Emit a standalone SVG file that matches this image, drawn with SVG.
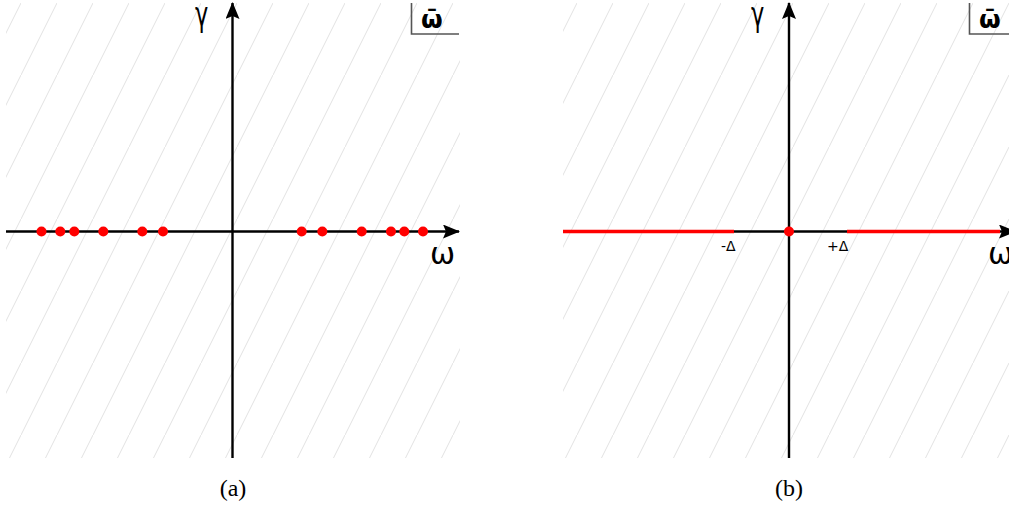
<svg xmlns="http://www.w3.org/2000/svg" width="1009" height="511" viewBox="0 0 1009 511">
<style>
.axis{stroke:#000;stroke-width:2.4;fill:none}
.box{stroke:#555;stroke-width:1.6;fill:none}
.lbl{font-family:"DejaVu Sans",sans-serif;fill:#000}
.sm{font-family:"DejaVu Sans",sans-serif;font-size:14px;fill:#000}
.cap{font-family:"Liberation Serif",serif;font-size:24px;fill:#000;text-anchor:middle}
.dot{fill:#f00}
.red{stroke:#f00;stroke-width:3.5}
</style>
<defs>
<pattern id="hpA" patternUnits="userSpaceOnUse" x="21" y="3" width="36" height="72">
<line x1="-2" y1="76" x2="38" y2="-4" stroke="#e2e2e2" stroke-width="1"/>
</pattern>
<pattern id="hpB" patternUnits="userSpaceOnUse" x="1" y="3" width="36" height="72">
<line x1="-2" y1="76" x2="38" y2="-4" stroke="#e2e2e2" stroke-width="1"/>
</pattern>
<marker id="arr" viewBox="0 0 17 14" refX="16" refY="7" markerWidth="17" markerHeight="14" markerUnits="userSpaceOnUse" orient="auto">
<path d="M0,0 L17,7 L0,14 L3,7 Z" fill="#000"/>
</marker>
</defs>
<g id="panel-a">
<rect x="6" y="3" width="454" height="455" fill="url(#hpA)"/>
<g id="axes-a">
<line class="axis" x1="6" y1="231.5" x2="459" y2="231.5" marker-end="url(#arr)"/>
<line class="axis" x1="232.5" y1="458" x2="232.5" y2="3" marker-end="url(#arr)"/>
</g>
<g id="dots-a">
<circle class="dot" cx="41.5" cy="231.5" r="5"/>
<circle class="dot" cx="60.3" cy="231.5" r="5"/>
<circle class="dot" cx="74.3" cy="231.5" r="5"/>
<circle class="dot" cx="103.3" cy="231.5" r="5"/>
<circle class="dot" cx="142.3" cy="231.5" r="5"/>
<circle class="dot" cx="163" cy="231.5" r="5"/>
<circle class="dot" cx="301.7" cy="231.5" r="5"/>
<circle class="dot" cx="322.3" cy="231.5" r="5"/>
<circle class="dot" cx="361.7" cy="231.5" r="5"/>
<circle class="dot" cx="391" cy="231.5" r="5"/>
<circle class="dot" cx="404.3" cy="231.5" r="5"/>
<circle class="dot" cx="423" cy="231.5" r="5"/>
</g>
<text class="lbl" x="195" y="26" font-size="33" transform="translate(195 0) scale(0.68 1) translate(-195 0)">γ</text>
<text class="lbl" x="430" y="264" font-size="30">ω</text>
<path class="box" d="M411.5,3 V34 H459"/>
<text class="lbl" x="421" y="28" font-size="25" font-weight="bold">ω̄</text>
<text class="cap" x="233" y="496">(a)</text>
</g>
<g id="panel-b">
<rect x="563" y="3" width="446" height="455" fill="url(#hpB)"/>
<g id="axes-b">
<line class="axis" x1="563" y1="231.5" x2="1015" y2="231.5" marker-end="url(#arr)"/>
<line class="axis" x1="789" y1="458" x2="789" y2="3" marker-end="url(#arr)"/>
</g>
<g id="spectrum-b">
<line class="red" x1="563" y1="231.5" x2="734" y2="231.5"/>
<line class="red" x1="847" y1="231.5" x2="1000" y2="231.5"/>
<circle class="dot" cx="789" cy="231.5" r="5"/>
</g>
<text class="sm" x="721" y="251">-Δ</text>
<text class="sm" x="827" y="251">+Δ</text>
<text class="lbl" x="751" y="26" font-size="33" transform="translate(751 0) scale(0.68 1) translate(-751 0)">γ</text>
<text class="lbl" x="988" y="264" font-size="30">ω</text>
<path class="box" d="M969.5,3 V34 H1009"/>
<text class="lbl" x="979" y="28" font-size="25" font-weight="bold">ω̄</text>
<text class="cap" x="789" y="496">(b)</text>
</g>
</svg>
